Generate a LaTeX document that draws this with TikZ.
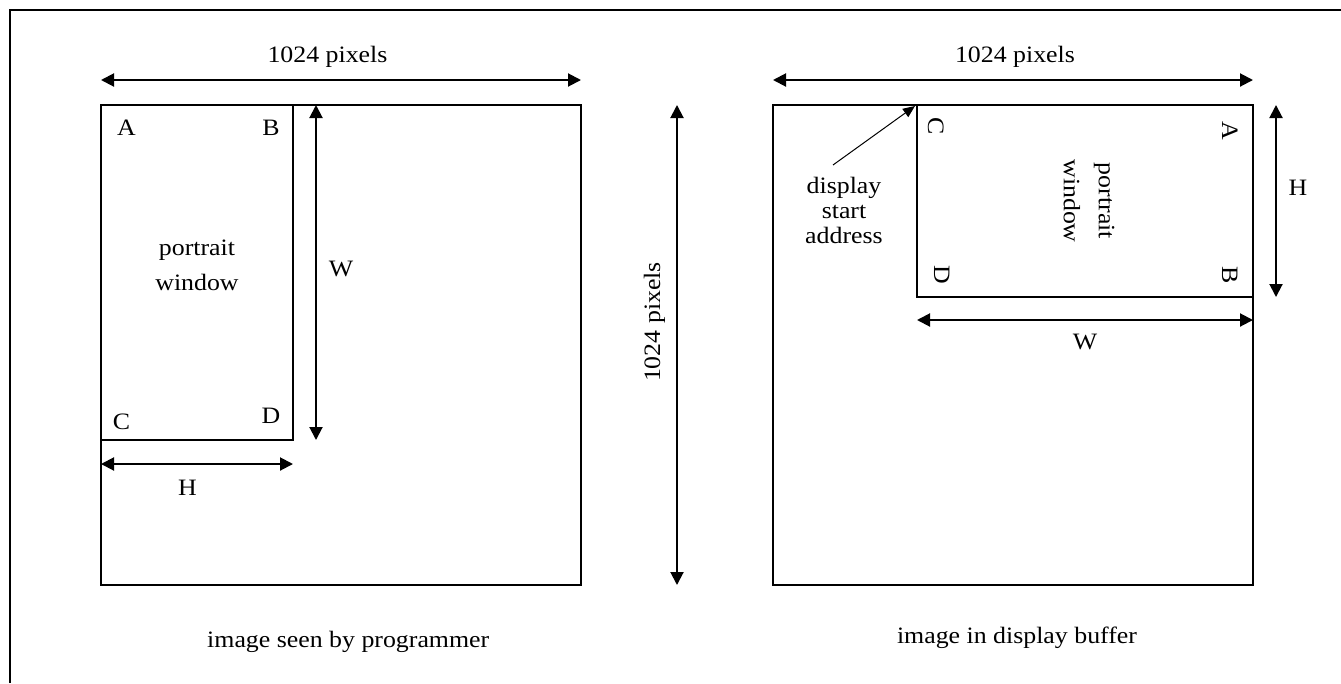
\documentclass[tikz,border=0pt]{standalone}
\usepackage{fontspec}
\setmainfont{Liberation Serif}[FakeStretch=1.1]
\usetikzlibrary{arrows.meta}
\begin{document}
\begin{tikzpicture}[x=1pt,y=-1pt,
  box/.style={line width=2pt},
  dim/.style={line width=2pt,{Triangle[length=13pt,width=13pt]}-{Triangle[length=13pt,width=13pt]}},
  lead/.style={line width=1pt,-{Triangle[length=12pt,width=10pt]}},
  lbl/.style={font=\fontsize{23.5}{25}\selectfont,inner sep=0pt},
  every node/.style={font=\fontsize{23.5}{25}\selectfont}]
\useasboundingbox (0,0) rectangle (1341,683);
\draw[box] (10,683) -- (10,10) -- (1341,10);
% left panel
\draw[box] (101,105) rectangle (581,585);
\draw[box] (101,105) rectangle (293,440);
\coordinate (lt1) at (101,80); \coordinate (lt2) at (581,80);
\draw[dim] (lt1) -- (lt2);
\node[lbl,anchor=base] (ltl) at (327.5,62) {1024 pixels};
\coordinate (lw1) at (316,105); \coordinate (lw2) at (316,440);
\draw[dim] (lw1) -- (lw2);
\node[lbl,anchor=base] (lwl) at (341,276) {W};
\coordinate (lh1) at (101,464); \coordinate (lh2) at (293,464);
\draw[dim] (lh1) -- (lh2);
\node[lbl,anchor=base] (lhl) at (187.5,495) {H};
\node[lbl,anchor=base] (la) at (126.5,135) {A};
\node[lbl,anchor=base] (lb) at (271,135) {B};
\node[lbl,anchor=base] (lc) at (121.5,429) {C};
\node[lbl,anchor=base] (ld) at (271,423) {D};
\node[lbl,align=center,font=\fontsize{23.5}{35}\selectfont] (lpw) at (197,265) {portrait\\window};
% middle
\coordinate (m1) at (677,105); \coordinate (m2) at (677,585);
\draw[dim] (m1) -- (m2);
\node[lbl,rotate=90,anchor=base] (ml) at (660,322) {1024 pixels};
% right panel
\draw[box] (773,105) rectangle (1253,585);
\draw[box] (917,105) rectangle (1253,297);
\coordinate (rt1) at (773,80); \coordinate (rt2) at (1253,80);
\draw[dim] (rt1) -- (rt2);
\node[lbl,anchor=base] (rtl) at (1015,62) {1024 pixels};
\coordinate (rh1) at (1276,105); \coordinate (rh2) at (1276,297);
\draw[dim] (rh1) -- (rh2);
\node[lbl,anchor=base] (rhl) at (1298,195) {H};
\coordinate (rw1) at (917,320); \coordinate (rw2) at (1253,320);
\draw[dim] (rw1) -- (rw2);
\node[lbl,anchor=base] (rwl) at (1085,349) {W};
\node[lbl,rotate=-90,anchor=base] (rc) at (928,126) {C};
\node[lbl,rotate=-90,anchor=base] (ra) at (1222,131) {A};
\node[lbl,rotate=-90,anchor=base] (rb) at (1222,275.5) {B};
\node[lbl,rotate=-90,anchor=base] (rd) at (934,275) {D};
\node[lbl,rotate=-90,align=center,font=\fontsize{23.5}{35}\selectfont] (rpw) at (1089,201) {portrait\\window};
\node[lbl,align=center,anchor=base] (dsa) at (844,243) {display\\start\\address};
\coordinate (dsa0) at (833,165);
\coordinate (dsa1) at (915,106);
\draw[lead] (dsa0) -- (dsa1);
% captions
\node[lbl,anchor=base west] (cap1) at (207,647) {image seen by programmer};
\node[lbl,anchor=base] (cap2) at (1017,643) {image in display buffer};
\end{tikzpicture}
\end{document}
